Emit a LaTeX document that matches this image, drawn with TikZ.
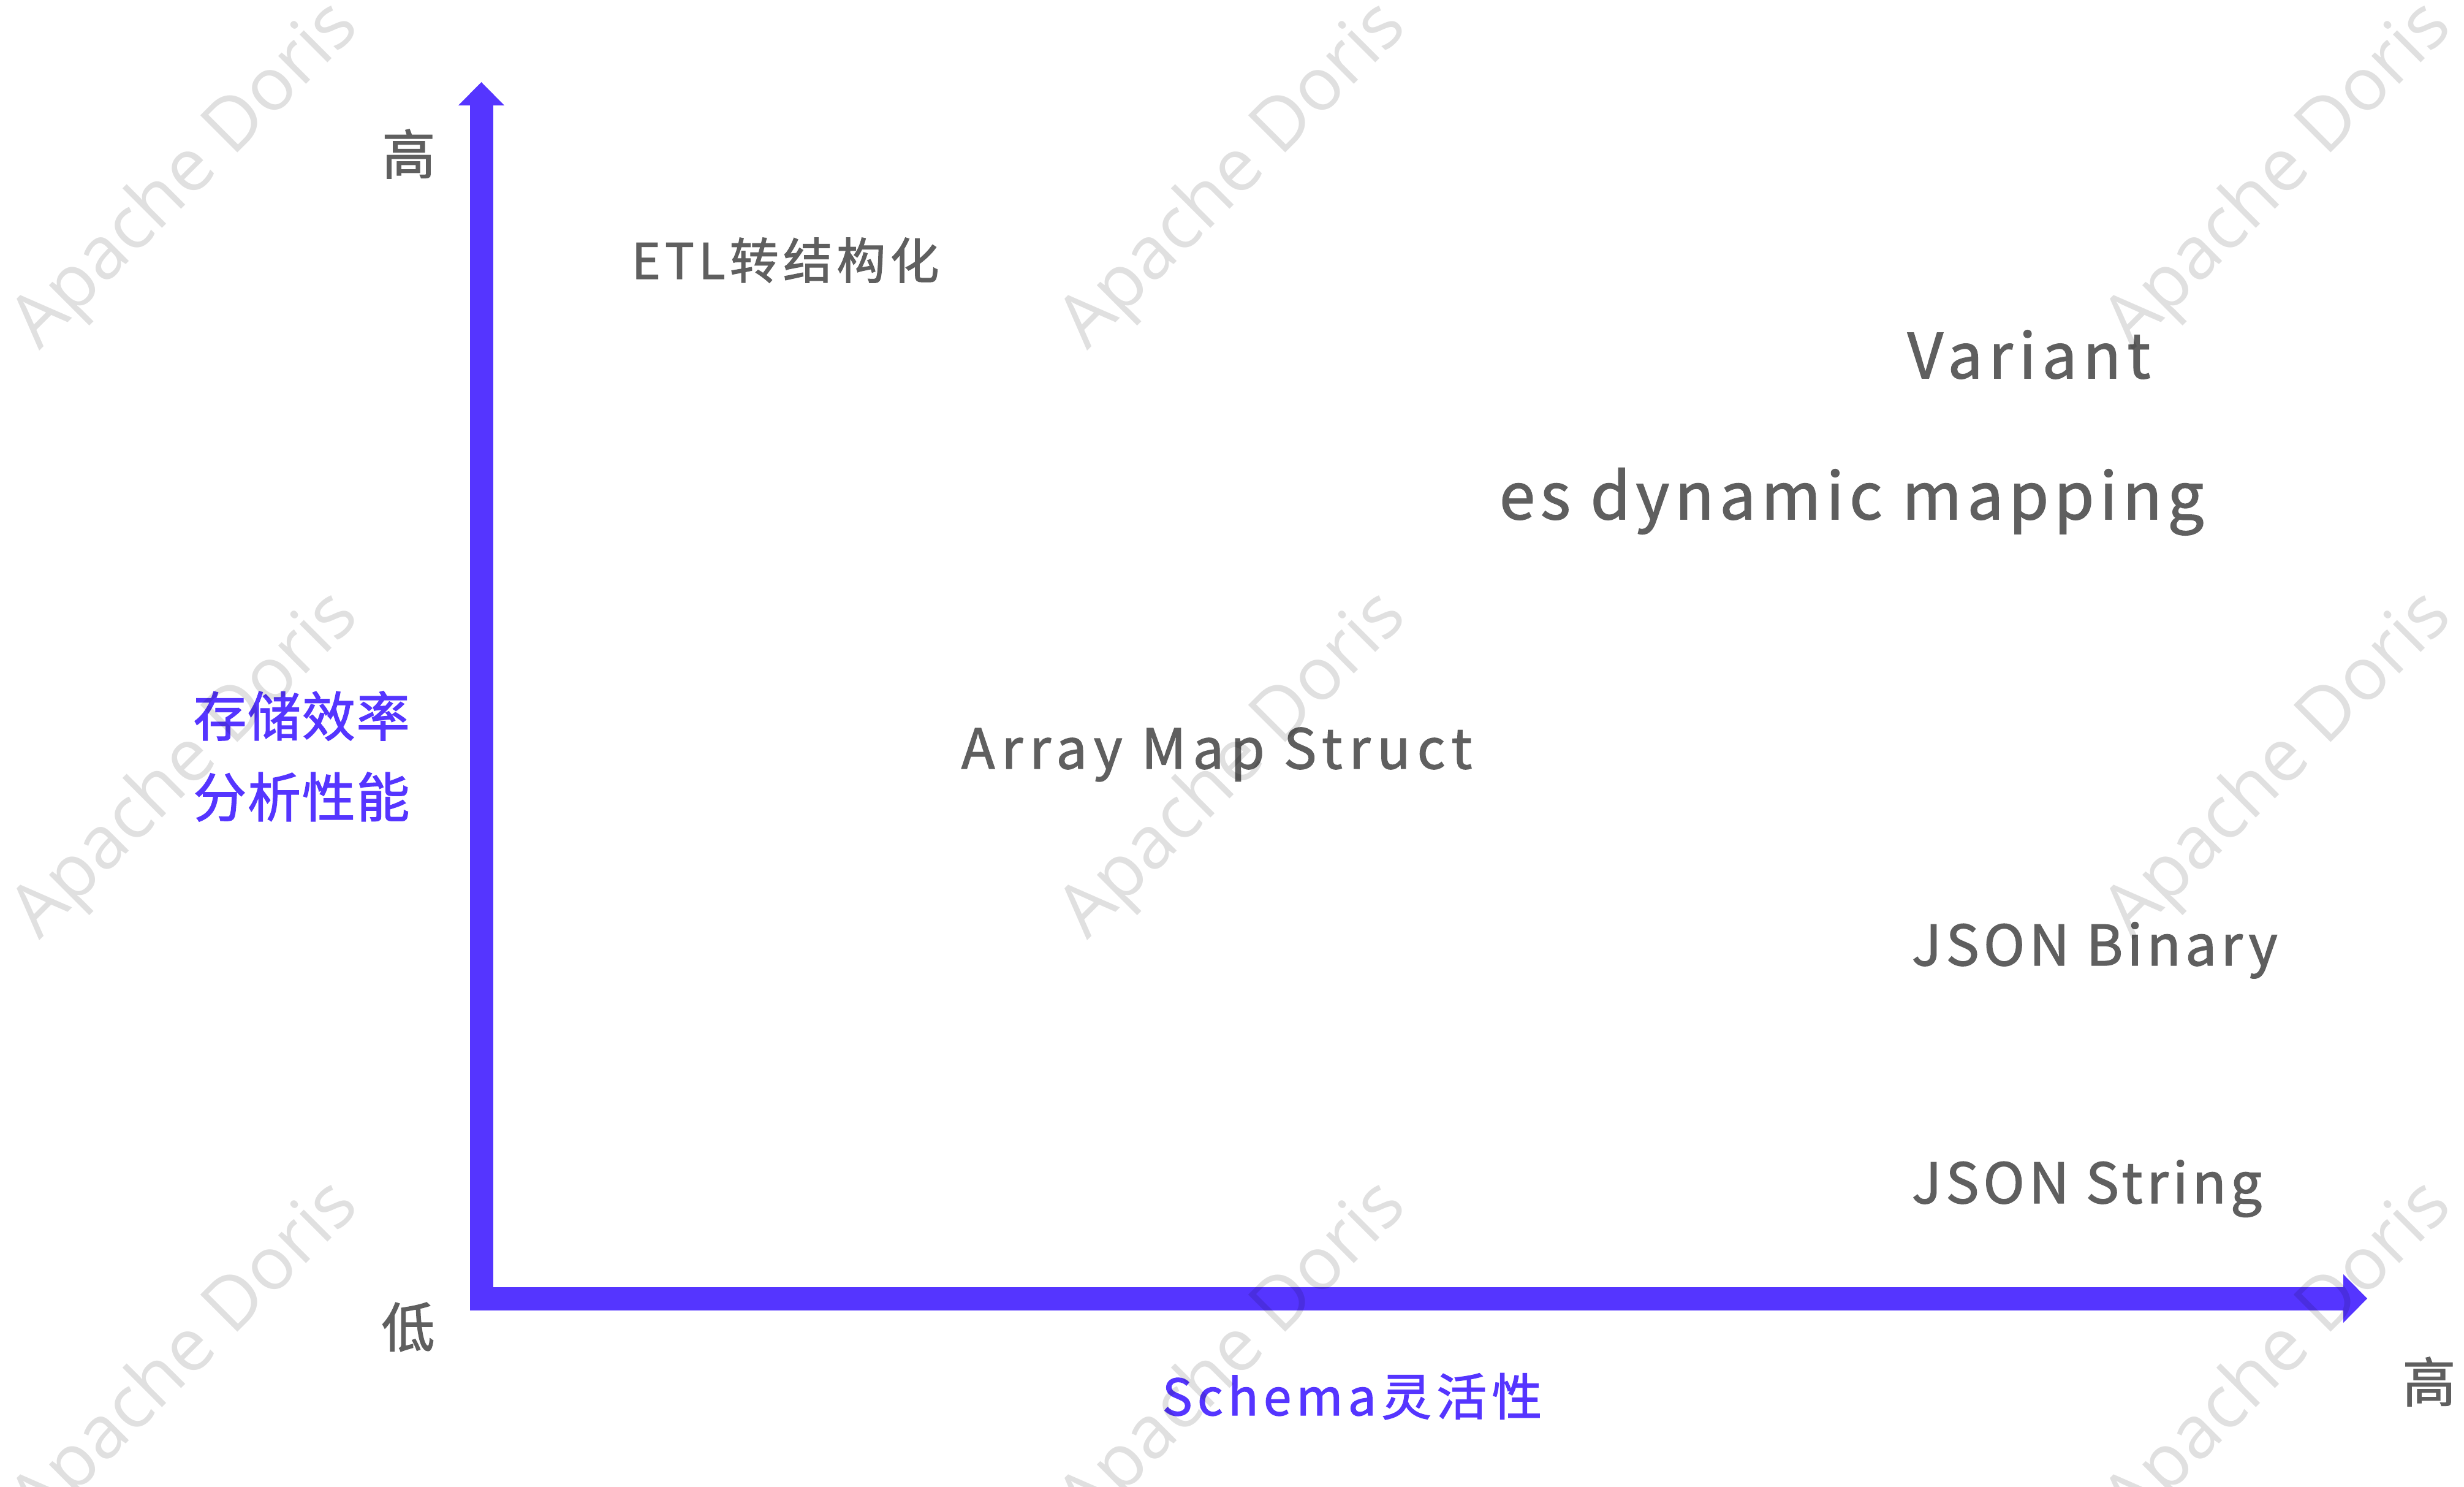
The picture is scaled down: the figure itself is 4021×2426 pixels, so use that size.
\documentclass[tikz,border=0pt]{standalone}
\usepackage{fontspec}
\setmainfont{Noto Sans CJK SC}
\newfontfamily\wmfont{Open Sans}
\newcommand\lsf[1]{\fontspec[LetterSpace=#1,FakeBold=1.5]{Noto Sans CJK SC}}
\usetikzlibrary{arrows.meta}
\definecolor{axisblue}{HTML}{5535FF}
\definecolor{txtgray}{HTML}{5F5F5F}
\begin{document}
\begin{tikzpicture}[x=0.25pt,y=-0.25pt,
  lbl/.style={anchor=base west, inner sep=0pt, text=txtgray},
  cjklbl/.style={anchor=center, inner sep=0pt, text=txtgray, font=\lsf{0}\fontsize{21.75pt}{26pt}\selectfont},
  bluelbl/.style={inner sep=0pt, text=axisblue},
  wm/.style={rotate=45, inner sep=0pt, text=black, text opacity=0.12, font=\wmfont\fontsize{30pt}{36pt}\selectfont},
  axis/.style={line width=9.5pt, draw=axisblue,
    {Triangle[length=9.5pt,width=18.75pt,line width=0pt]}-{Triangle[length=9.75pt,width=19.75pt,line width=0pt]}}]
\useasboundingbox (0,0) rectangle (4021,2426);
\fill[white] (0,0) rectangle (4021,2426);

% axes
\coordinate (ytip) at (785.5,134);
\coordinate (xtip) at (3863,2118.5);
\draw[axis] (ytip) |- (xtip);

% axis end labels
\node[cjklbl] (yhigh) at (667,251) {高};
\node[cjklbl] (low) at (666,2165) {低};
\node[cjklbl] (xhigh) at (3964,2254) {高};

% axis titles
\node[bluelbl, anchor=center, font=\lsf{2}\fontsize{21.75pt}{26pt}\selectfont] (ytitle1) at (492,1168) {存储效率};
\node[bluelbl, anchor=center, font=\lsf{2}\fontsize{21.75pt}{26pt}\selectfont] (ytitle2) at (492,1300) {分析性能};
\node[bluelbl, anchor=base west, font=\lsf{10}\fontsize{20.5pt}{24pt}\selectfont] (xtitle) at (1896,2309) {Schema灵活性};

% items
\node[lbl, font=\lsf{9}\fontsize{20pt}{24pt}\selectfont] (etl) at (1030,455) {ETL转结构化};
\node[lbl, font=\lsf{10}\fontsize{25.25pt}{30pt}\selectfont] (variant) at (3112,617) {Variant};
\node[lbl, font=\lsf{8.5}\fontsize{26.25pt}{31pt}\selectfont] (esdm) at (2446,847) {es dynamic mapping};
\node[lbl, font=\lsf{12}\fontsize{22.5pt}{27pt}\selectfont] (ams) at (1568,1254) {Array Map Struct};
\node[lbl, font=\lsf{7.75}\fontsize{22.75pt}{27pt}\selectfont] (jbin) at (3119,1575) {JSON Binary};
\node[lbl, font=\lsf{7.5}\fontsize{22.75pt}{27pt}\selectfont] (jstr) at (3119,1963) {JSON String};

% watermark
\foreach \wx in {305,2015,3721}{
  \foreach \wy in {288,1250,2212}{
    \node[wm] (wm-\wx-\wy) at (\wx,\wy) {Apache Doris};
  }
}
\end{tikzpicture}
\end{document}
